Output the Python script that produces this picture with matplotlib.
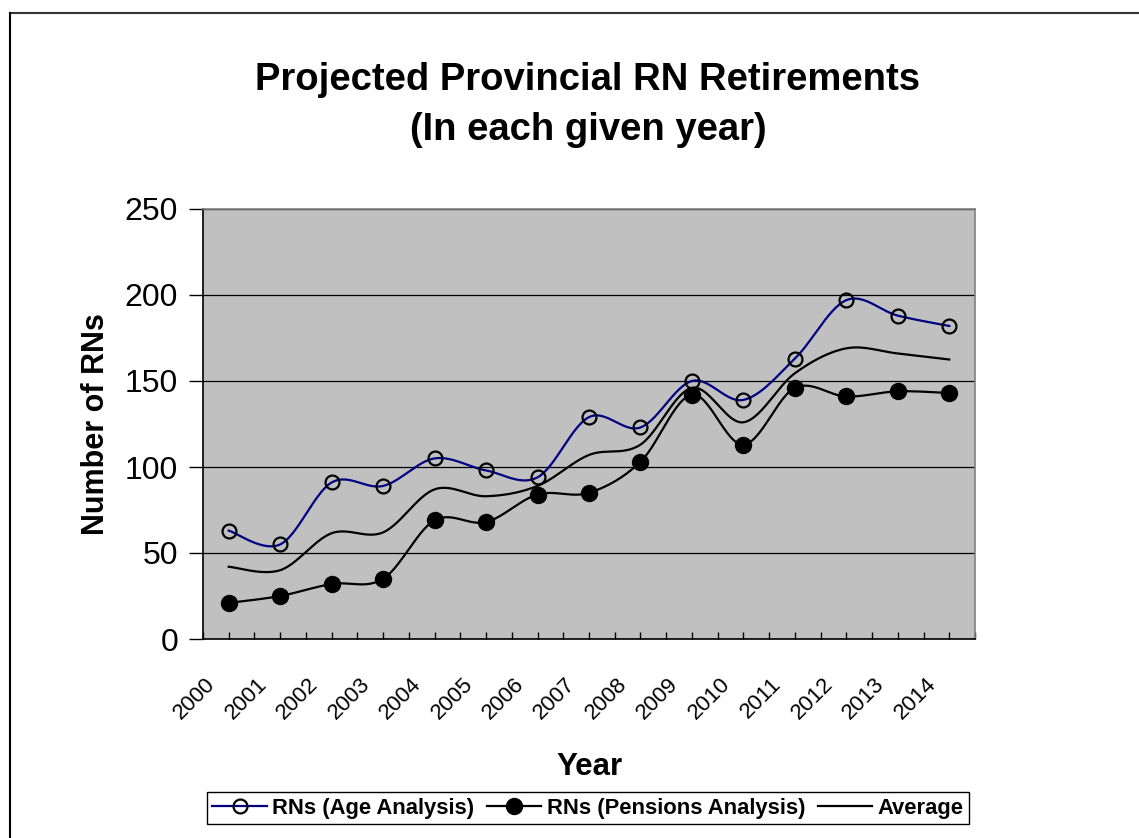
import numpy as np
import matplotlib
matplotlib.use('Agg')
import matplotlib.pyplot as plt
import matplotlib.transforms as mtransforms
from matplotlib.lines import Line2D

plt.rcParams['font.family'] = ['Liberation Sans', 'DejaVu Sans']

# data
years = ['2000', '2001', '2002', '2003', '2004', '2005', '2006', '2007',
         '2008', '2009', '2010', '2011', '2012', '2013', '2014']
age = [63, 55, 91, 89, 105, 98, 94, 129, 123, 150, 139, 163, 197, 188, 182]
pensions = [21, 25, 32, 35, 69, 68, 84, 85, 103, 142, 113, 146, 141, 144, 143]
average = [42, 40, 61.5, 62, 87, 83, 89, 107, 113, 146, 126, 154.5, 169, 166, 162.5]


def smooth(xs, ys, n=30):
    # Excel-style smoothed line (Catmull-Rom bezier through the points)
    xs = np.asarray(xs, float)
    ys = np.asarray(ys, float)
    px = np.concatenate([[xs[0]], xs, [xs[-1]]])
    py = np.concatenate([[ys[0]], ys, [ys[-1]]])
    outx, outy = [], []
    t = np.linspace(0, 1, n)
    for i in range(1, len(px) - 2):
        p0 = np.array([px[i], py[i]])
        p3 = np.array([px[i + 1], py[i + 1]])
        c1 = p0 + (np.array([px[i + 1], py[i + 1]]) - np.array([px[i - 1], py[i - 1]])) / 6
        c2 = p3 - (np.array([px[i + 2], py[i + 2]]) - np.array([px[i], py[i]])) / 6
        b = ((1 - t) ** 3)[:, None] * p0 + (3 * (1 - t) ** 2 * t)[:, None] * c1 \
            + (3 * (1 - t) * t ** 2)[:, None] * c2 + (t ** 3)[:, None] * p3
        outx.extend(b[:, 0])
        outy.extend(b[:, 1])
    return outx, outy


x = np.arange(len(years))

fig = plt.figure(figsize=(11.39, 8.38), dpi=100)
ax = fig.add_axes([203 / 1139, 1 - 639 / 838, (975 - 203) / 1139, (639 - 209) / 838])
ax.set_facecolor('#C0C0C0')

# outer chart border (top and left only visible)
fig.add_artist(Line2D([10 / 1139, 1], [1 - 13 / 838, 1 - 13 / 838],
                      transform=fig.transFigure, color='#333333', lw=1.5))
fig.add_artist(Line2D([10 / 1139, 10 / 1139], [0, 1 - 13 / 838],
                      transform=fig.transFigure, color='black', lw=1.5))

sx, sy = smooth(x, age)
ax.plot(sx, sy, color='#000080', lw=1.6, zorder=3)
ax.plot(x, age, ls='none', marker='o', ms=10, mfc='none', mec='black', mew=1.6, zorder=4)

sx, sy = smooth(x, pensions)
ax.plot(sx, sy, color='black', lw=1.6, zorder=3)
ax.plot(x, pensions, ls='none', marker='o', ms=11.5, mfc='black', mec='black', zorder=4)

sx, sy = smooth(x, average)
ax.plot(sx, sy, color='black', lw=1.6, zorder=3)

ax.set_xlim(-0.5, len(years) - 0.5)
ax.set_ylim(0, 250)
ax.set_yticks([0, 50, 100, 150, 200, 250])
ax.yaxis.grid(True, color='black', lw=0.9)
ax.set_axisbelow(True)

ax.set_xticks(x)
ax.set_xticks(np.arange(-0.5, len(years), 1.0), minor=True)
ax.set_xticklabels(years, rotation=45, ha='right', va='top', rotation_mode='anchor', fontsize=16)
ax.tick_params(axis='x', which='both', direction='in', length=5, width=1, top=False)
ax.tick_params(axis='x', which='major', pad=14)
ax.tick_params(axis='y', direction='out', length=10, width=1, labelsize=23, pad=8)
shift = mtransforms.ScaledTranslation(-0.24, -0.15, fig.dpi_scale_trans)
for lab in ax.get_xticklabels():
    lab.set_transform(lab.get_transform() + shift)

for s in ['top', 'right']:
    ax.spines[s].set_color('#808080')
    ax.spines[s].set_linewidth(1.2)
for s in ['left', 'bottom']:
    ax.spines[s].set_color('black')
    ax.spines[s].set_linewidth(1.2)

ax.set_ylabel('Number of RNs', fontsize=22, fontweight='bold', labelpad=10)
fig.text(589 / 1139, 1 - 767 / 838, 'Year', fontsize=22.5, fontweight='bold', ha='center', va='center')

fig.text(588 / 1139, 1 - 80 / 838, 'Projected Provincial RN Retirements',
         fontsize=27.5, fontweight='bold', ha='center', va='center')
fig.text(588 / 1139, 1 - 130 / 838, '(In each given year)',
         fontsize=27.5, fontweight='bold', ha='center', va='center')

handles = [
    Line2D([], [], color='#000080', lw=1.6, marker='o', ms=10, mfc='none', mec='black', mew=1.6),
    Line2D([], [], color='black', lw=1.6, marker='o', ms=11.5, mfc='black', mec='black'),
    Line2D([], [], color='black', lw=1.6),
]
leg = fig.legend(handles, ['RNs (Age Analysis)', 'RNs (Pensions Analysis)', 'Average'],
                 loc='center', bbox_to_anchor=(588 / 1139, 1 - 808 / 838), ncol=3,
                 fancybox=False, edgecolor='black', framealpha=1,
                 prop={'weight': 'bold', 'size': 15.8}, handlelength=2.5,
                 handletextpad=0.25, columnspacing=0.55, borderpad=0.25, borderaxespad=0)
leg.get_frame().set_linewidth(1)

fig.savefig('out.png', dpi=100)
